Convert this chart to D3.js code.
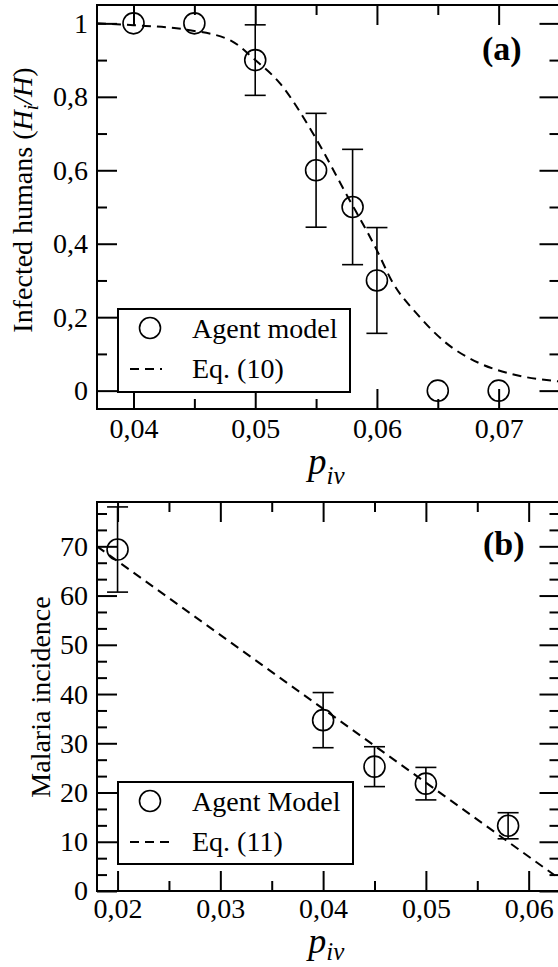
<!DOCTYPE html>
<html>
<head>
<meta charset="utf-8">
<script src="https://cdn.jsdelivr.net/npm/d3@7"></script>
<style>
  html, body { margin: 0; padding: 0; background: #fff; }
  svg { display: block; }
  text { font-family: "Liberation Serif", "DejaVu Serif", serif; fill: #000; }
</style>
</head>
<body>
<svg id="chart" width="558" height="967"></svg>
<script>
// ---------- Panel (a) data ----------
const aAgentP   = [0.04, 0.045, 0.05, 0.055, 0.058, 0.06, 0.065, 0.07];
const aAgentV   = [1.0, 1.0, 0.9, 0.6, 0.5, 0.3, 0.0, 0.0];
const aAgentErr = [0, 0, 0.096, 0.155, 0.157, 0.144, 0, 0];
const aEqP = [0.037, 0.040, 0.0445, 0.048, 0.050, 0.052, 0.0547, 0.0574, 0.060, 0.0612, 0.0634, 0.0656, 0.0684, 0.0711, 0.075];
const aEqV = [1.000, 0.995, 0.982, 0.953, 0.900, 0.838, 0.703, 0.540, 0.382, 0.300, 0.205, 0.132, 0.075, 0.045, 0.025];
const aTicksX = [0.04, 0.05, 0.06, 0.07];
const aTickLabelsX = ["0,04", "0,05", "0,06", "0,07"];
const aMinorX = [0.045, 0.055, 0.065];
const aTicksY = [0, 0.2, 0.4, 0.6, 0.8, 1.0];
const aTickLabelsY = ["0", "0,2", "0,4", "0,6", "0,8", "1"];
const aMinorY = [0.1, 0.3, 0.5, 0.7, 0.9];
const aLegend = ["Agent model", "Eq. (10)"];

// ---------- Panel (b) data ----------
const bAgentP   = [0.02, 0.04, 0.045, 0.05, 0.058];
const bAgentV   = [69.35, 34.7, 25.25, 21.8, 13.25];
const bAgentErr = [8.65, 5.6, 4.05, 3.3, 2.65];
const bEqP = [0.018, 0.063];
const bEqV = [70.0, 2.5];
const bTicksX = [0.02, 0.03, 0.04, 0.05, 0.06];
const bTickLabelsX = ["0,02", "0,03", "0,04", "0,05", "0,06"];
const bMinorX = [0.025, 0.035, 0.045, 0.055];
const bTicksY = [0, 10, 20, 30, 40, 50, 60, 70];
const bTickLabelsY = ["0", "10", "20", "30", "40", "50", "60", "70"];
const bMinorY = [3.333, 6.667, 13.333, 16.667, 23.333, 26.667, 33.333, 36.667, 43.333, 46.667, 53.333, 56.667, 63.333, 66.667, 73.333, 76.667];
const bLegend = ["Agent Model", "Eq. (11)"];

const svg = d3.select("#chart");
const FONT = 28;

function panel(cfg) {
  const x = d3.scaleLinear().domain(cfg.xDomain).range([cfg.left, cfg.right]);
  const y = d3.scaleLinear().domain(cfg.yDomain).range([cfg.bottom, cfg.top]);
  const g = svg.append("g");

  // axes (ticks pointing inward)
  const fmtX = d => cfg.xLabels[cfg.xTicks.indexOf(d)];
  const fmtY = d => cfg.yLabels[cfg.yTicks.indexOf(d)];
  const styleAxis = sel => {
    sel.select(".domain").remove();
    sel.selectAll(".tick line").attr("stroke", "#000").attr("stroke-width", 2);
    sel.selectAll(".tick text").style("font-size", FONT + "px")
      .style("font-family", "'Liberation Serif', serif").attr("fill", "#000");
  };
  g.append("g").attr("transform", `translate(0,${cfg.bottom})`)
    .call(d3.axisBottom(x).tickValues(cfg.xTicks).tickFormat(fmtX).tickSize(-20).tickPadding(cfg.xPad)).call(styleAxis);
  g.append("g").attr("transform", `translate(0,${cfg.bottom})`)
    .call(d3.axisBottom(x).tickValues(cfg.xMinor).tickFormat("").tickSize(-10)).call(styleAxis);
  g.append("g").attr("transform", `translate(0,${cfg.top})`)
    .call(d3.axisTop(x).tickValues(cfg.xTicks).tickFormat("").tickSize(-20)).call(styleAxis);
  g.append("g").attr("transform", `translate(0,${cfg.top})`)
    .call(d3.axisTop(x).tickValues(cfg.xMinor).tickFormat("").tickSize(-10)).call(styleAxis);
  g.append("g").attr("transform", `translate(${cfg.left},0)`)
    .call(d3.axisLeft(y).tickValues(cfg.yTicks).tickFormat(fmtY).tickSize(-20).tickPadding(9)).call(styleAxis);
  g.append("g").attr("transform", `translate(${cfg.left},0)`)
    .call(d3.axisLeft(y).tickValues(cfg.yMinor).tickFormat("").tickSize(-10)).call(styleAxis);
  g.append("g").attr("transform", `translate(${cfg.right},0)`)
    .call(d3.axisRight(y).tickValues(cfg.yTicks).tickFormat("").tickSize(-20)).call(styleAxis);
  g.append("g").attr("transform", `translate(${cfg.right},0)`)
    .call(d3.axisRight(y).tickValues(cfg.yMinor).tickFormat("").tickSize(-10)).call(styleAxis);

  // frame
  g.append("rect").attr("x", cfg.left).attr("y", cfg.top)
    .attr("width", cfg.right - cfg.left).attr("height", cfg.bottom - cfg.top)
    .attr("fill", "none").attr("stroke", "#000").attr("stroke-width", 2);

  // model curve
  const line = d3.line().x(d => x(d[0])).y(d => y(d[1])).curve(d3.curveMonotoneX);
  g.append("path").datum(d3.zip(cfg.eqP, cfg.eqV))
    .attr("d", line).attr("fill", "none").attr("stroke", "#000")
    .attr("stroke-width", 2).attr("stroke-dasharray", "9,6");

  // error bars
  const pts = cfg.agentP.map((p, i) => ({ p, v: cfg.agentV[i], e: cfg.agentErr[i] }));
  const eb = g.append("g").attr("stroke", "#000").attr("stroke-width", 1.6);
  pts.filter(d => d.e > 0).forEach(d => {
    const cx = x(d.p), y1 = y(d.v + d.e), y2 = y(d.v - d.e);
    eb.append("line").attr("x1", cx).attr("x2", cx).attr("y1", y1).attr("y2", y2);
    eb.append("line").attr("x1", cx - 10.5).attr("x2", cx + 10.5).attr("y1", y1).attr("y2", y1);
    eb.append("line").attr("x1", cx - 10.5).attr("x2", cx + 10.5).attr("y1", y2).attr("y2", y2);
  });
  // circles
  g.append("g").selectAll("circle").data(pts).join("circle")
    .attr("cx", d => x(d.p)).attr("cy", d => y(d.v)).attr("r", 10.5)
    .attr("fill", "none").attr("stroke", "#000").attr("stroke-width", 1.6);

  // legend
  const L = cfg.legend;
  g.append("rect").attr("x", L.x).attr("y", L.y).attr("width", L.w).attr("height", L.h)
    .attr("fill", "#fff").attr("stroke", "#000").attr("stroke-width", 2);
  g.append("circle").attr("cx", L.x + 32).attr("cy", L.y + 19).attr("r", 10.5)
    .attr("fill", "none").attr("stroke", "#000").attr("stroke-width", 1.6);
  g.append("text").attr("x", L.x + 74).attr("y", L.y + 29).style("font-size", FONT + "px").text(cfg.legendText[0]);
  g.append("line").attr("x1", L.x + 12).attr("x2", L.x + L.lineLen).attr("y1", L.y + 60).attr("y2", L.y + 60)
    .attr("stroke", "#000").attr("stroke-width", 2).attr("stroke-dasharray", "9,6");
  g.append("text").attr("x", L.x + 74).attr("y", L.y + 69).style("font-size", FONT + "px").text(cfg.legendText[1]);

  // panel tag
  g.append("text").attr("x", cfg.tag.x).attr("y", cfg.tag.y)
    .style("font-size", "34px").style("font-weight", "bold").text(cfg.tag.t);

  // x label p_iv
  const xl = g.append("text").attr("x", (cfg.left + cfg.right) / 2 - 2).attr("y", cfg.xLabelY)
    .attr("text-anchor", "middle");
  xl.append("tspan").style("font-size", cfg.pSize + "px").style("font-style", "italic").text("p");
  xl.append("tspan").style("font-size", "25px").style("font-style", "italic").attr("dy", cfg.subDy).text("iv");

  return g;
}

// Panel (a)
const ga = panel({
  xDomain: [0.037, 0.075], yDomain: [-0.05, 1.05],
  left: 97, right: 559.5, top: 5, bottom: 409,
  xTicks: aTicksX, xLabels: aTickLabelsX, xMinor: aMinorX,
  yTicks: aTicksY, yLabels: aTickLabelsY, yMinor: aMinorY,
  agentP: aAgentP, agentV: aAgentV, agentErr: aAgentErr,
  eqP: aEqP, eqV: aEqV,
  legend: { x: 118, y: 309, w: 232, h: 83, lineLen: 44 },
  legendText: aLegend,
  tag: { x: 482, y: 60, t: "(a)" },
  xPad: 9, xLabelY: 474, subDy: 10, pSize: 37
});
// y label (a)
const yla = svg.append("text").attr("transform", "translate(32,200) rotate(-90)")
  .attr("text-anchor", "middle").style("font-size", FONT + "px");
yla.append("tspan").text("Infected humans (");
yla.append("tspan").style("font-style", "italic").text("H");
yla.append("tspan").style("font-style", "italic").style("font-size", "20px").attr("dy", 6).text("i");
yla.append("tspan").style("font-style", "italic").attr("dy", -6).text("/H");
yla.append("tspan").text(")");

// Panel (b)
const gb = panel({
  xDomain: [0.018, 0.063], yDomain: [0, 79],
  left: 97, right: 559.5, top: 502, bottom: 891,
  xTicks: bTicksX, xLabels: bTickLabelsX, xMinor: bMinorX,
  yTicks: bTicksY, yLabels: bTickLabelsY, yMinor: bMinorY,
  agentP: bAgentP, agentV: bAgentV, agentErr: bAgentErr,
  eqP: bEqP, eqV: bEqV,
  legend: { x: 118, y: 782, w: 235, h: 82, lineLen: 52 },
  legendText: bLegend,
  tag: { x: 483, y: 555, t: "(b)" },
  xPad: 7, xLabelY: 953, subDy: 7, pSize: 36
});
svg.append("text").attr("transform", "translate(50,697) rotate(-90)")
  .attr("text-anchor", "middle").style("font-size", FONT + "px").text("Malaria incidence");
</script>
</body>
</html>
